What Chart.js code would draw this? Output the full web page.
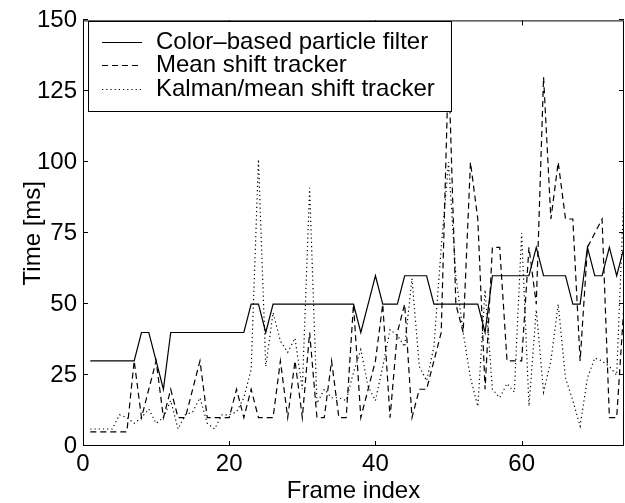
<!DOCTYPE html>
<html>
<head>
<meta charset="utf-8">
<script src="https://cdn.jsdelivr.net/npm/chart.js@4.4.1/dist/chart.umd.min.js"></script>
<style>
  html, body { margin: 0; padding: 0; background: #fff; }
  #wrap { width: 625px; height: 503px; }
</style>
</head>
<body>
<div id="wrap"><canvas id="chart" width="625" height="503"></canvas></div>
<script>
// frame index (x axis)
const frames = [
  1, 2, 3, 4, 5, 6, 7, 8, 9, 10, 11, 12, 13, 14, 15, 16, 17, 18, 19, 20,
  21, 22, 23, 24, 25, 26, 27, 28, 29, 30, 31, 32, 33, 34, 35, 36, 37, 38, 39, 40,
  41, 42, 43, 44, 45, 46, 47, 48, 49, 50, 51, 52, 53, 54, 55, 56, 57, 58, 59, 60,
  61, 62, 63, 64, 65, 66, 67, 68, 69, 70, 71, 72, 73, 74
];

// time per frame [ms]
const particleFilter = [
  30, 30, 30, 30, 30, 30, 30, 40, 40, 30, 20, 40, 40, 40, 40, 40, 40, 40, 40, 40,
  40, 40, 50, 50, 40, 50, 50, 50, 50, 50, 50, 50, 50, 50, 50, 50, 50, 40, 50, 60,
  50, 50, 50, 60, 60, 60, 60, 50, 50, 50, 50, 50, 50, 50, 40, 60, 60, 60, 60, 60,
  60, 70, 60, 60, 60, 60, 50, 50, 70, 60, 60, 70, 60, 70
];
const meanShift = [
  5, 5, 5, 5, 5, 5, 30, 10, 20, 30, 10, 20, 10, 10, 20, 30, 10, 10, 10, 10,
  20, 10, 20, 10, 10, 10, 30, 10, 30, 10, 40, 10, 10, 30, 10, 10, 50, 10, 20, 30,
  50, 10, 40, 50, 10, 20, 20, 30, 40, 135, 50, 40, 100, 80, 20, 70, 70, 30, 30, 30,
  70, 50, 130, 80, 100, 80, 80, 30, 70, 75, 80, 10, 10, 50
];
const kalmanMeanShift = [
  6, 6, 6, 6, 11, 10, 8, 10, 13, 8, 10, 16, 6, 11, 12, 17, 8, 6, 11, 11,
  12, 17, 27, 101, 28, 47, 37, 33, 38, 20, 91, 15, 20, 17, 17, 16, 26, 34, 21, 16,
  28, 41, 39, 35, 59, 28, 23, 35, 70, 100, 60, 40, 24, 14, 55, 20, 17, 22, 19, 75,
  14, 48, 19, 30, 50, 24, 16, 7, 24, 31, 30, 28, 25, 90
];

const seriesLabels = ['Color\u2013based particle filter', 'Mean shift tracker', 'Kalman/mean shift tracker'];
const xTicks = [0, 20, 40, 60];
const yTicks = [0, 25, 50, 75, 100, 125, 150];

const FONT = "'Liberation Sans', Arial, Helvetica, sans-serif";

function toPoints(values) {
  return frames.map((f, i) => ({ x: f, y: values[i] }));
}

// MATLAB 스타일 박스, 안쪽 눈금, 범례
const matlabAxes = {
  id: 'matlabAxes',
  afterDatasetsDraw(chart) {
    const { ctx, chartArea: a, scales } = chart;
    ctx.save();
    ctx.strokeStyle = '#000';
    ctx.lineWidth = 1;
    ctx.setLineDash([]);

    // box
    ctx.strokeRect(a.left + 0.5, a.top + 0.5, a.right - a.left - 1, a.bottom - a.top - 1);

    // inward ticks on all four sides
    const tl = 5;
    ctx.beginPath();
    xTicks.forEach(v => {
      const px = Math.round(scales.x.getPixelForValue(v)) + 0.5;
      ctx.moveTo(px, a.bottom); ctx.lineTo(px, a.bottom - tl);
      ctx.moveTo(px, a.top); ctx.lineTo(px, a.top + tl);
    });
    yTicks.forEach(v => {
      const py = Math.round(scales.y.getPixelForValue(v)) - 0.5;
      ctx.moveTo(a.left, py); ctx.lineTo(a.left + tl, py);
      ctx.moveTo(a.right, py); ctx.lineTo(a.right - tl, py);
    });
    ctx.stroke();

    // legend
    const box = { x: 88.5, y: 21.5, w: 363, h: 90 };
    ctx.fillStyle = '#fff';
    ctx.fillRect(box.x, box.y, box.w, box.h);
    ctx.strokeRect(box.x, box.y, box.w, box.h);
    ctx.font = '24px ' + FONT;
    ctx.textBaseline = 'middle';
    ctx.textAlign = 'left';
    chart.data.datasets.forEach((ds, i) => {
      const y = Math.round(42 + i * 23.3) + 0.5;
      ctx.beginPath();
      ctx.setLineDash(ds.borderDash || []);
      ctx.strokeStyle = ds.borderColor;
      ctx.lineWidth = ds.borderWidth;
      ctx.moveTo(102, y);
      ctx.lineTo(142, y);
      ctx.stroke();
      ctx.fillStyle = '#000';
      ctx.fillText(ds.label, 156, y);
    });
    ctx.restore();
  }
};

const lineStyle = {
  borderColor: '#000',
  borderWidth: 1.2,
  pointRadius: 0,
  tension: 0,
  fill: false
};

new Chart(document.getElementById('chart').getContext('2d'), {
  type: 'line',
  data: {
    datasets: [
      { ...lineStyle, label: seriesLabels[0], data: toPoints(particleFilter), borderDash: [] },
      { ...lineStyle, label: seriesLabels[1], data: toPoints(meanShift), borderDash: [6, 4] },
      { ...lineStyle, label: seriesLabels[2], data: toPoints(kalmanMeanShift), borderDash: [1.2, 3] }
    ]
  },
  options: {
    responsive: false,
    animation: false,
    layout: { padding: { top: 16, right: 1, left: 0, bottom: 0 } },
    plugins: {
      legend: { display: false },
      tooltip: { enabled: false }
    },
    scales: {
      x: {
        type: 'linear',
        min: 0,
        max: 74,
        afterBuildTicks: s => { s.ticks = xTicks.map(v => ({ value: v })); },
        afterFit: s => { s.height = 57; },
        grid: { display: false, drawTicks: false },
        border: { display: false },
        ticks: {
          color: '#000',
          autoSkip: false,
          maxRotation: 0,
          padding: 4,
          font: { family: FONT, size: 24 }
        },
        title: {
          display: true,
          text: 'Frame index',
          color: '#000',
          font: { family: FONT, size: 24, lineHeight: 1 },
          padding: { top: 1, bottom: 0 }
        }
      },
      y: {
        type: 'linear',
        min: 0,
        max: 150,
        afterBuildTicks: s => { s.ticks = yTicks.map(v => ({ value: v })); },
        afterFit: s => { s.width = 83; },
        grid: { display: false, drawTicks: false },
        border: { display: false },
        ticks: {
          color: '#000',
          autoSkip: false,
          padding: 6,
          font: { family: FONT, size: 24 }
        },
        title: {
          display: true,
          text: 'Time [ms]',
          color: '#000',
          font: { family: FONT, size: 24, lineHeight: 1 },
          padding: { top: 21, bottom: 0 }
        }
      }
    }
  },
  plugins: [matlabAxes]
});
</script>
</body>
</html>
